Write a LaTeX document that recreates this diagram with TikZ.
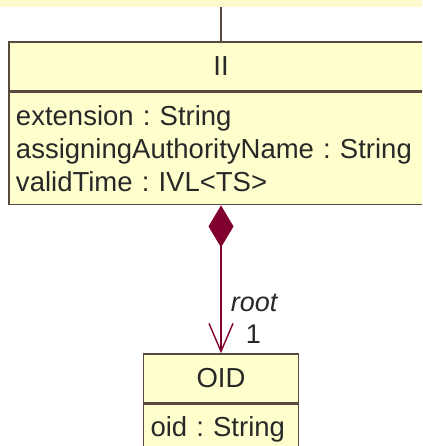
\documentclass[tikz,border=0pt]{standalone}
\usepackage{fontspec}
\setmainfont{Liberation Sans}
\usepackage{tikz}
\usetikzlibrary{arrows.meta, positioning, calc}

\definecolor{umlfill}{RGB}{255,255,206}
\definecolor{umltop}{RGB}{255,250,204}
\definecolor{umlline}{RGB}{88,72,62}
\definecolor{umlred}{RGB}{128,0,48}
\definecolor{umltext}{RGB}{40,40,40}
\frenchspacing

\begin{document}
\begin{tikzpicture}[x=1pt, y=-1pt,
		classhead/.style={draw=umlline, line width=1.6pt, fill=umlfill, text=umltext, inner sep=0pt,
			font=\fontsize{27.5}{33}\selectfont},
		classbody/.style={classhead, align=left, inner xsep=7pt, inner ysep=0pt},
		assoc/.style={draw=umlred, line width=1.6pt,
			{Diamond[length=42pt, width=25pt, fill=umlred]}-{Straight Barb[length=28pt, width=24pt, line width=1.4pt]}},
		lbl/.style={text=umltext, font=\fontsize{27}{33}\selectfont, inner sep=0pt}]
		\clip (0,0) rectangle (422,446);
		\fill[white] (0,0) rectangle (422,446);
		
		\node[fill=umltop, minimum width=430pt, minimum height=20pt, inner sep=0pt, anchor=south] (up) at (211,7) {};
		
		\node[classhead, minimum width=424pt, minimum height=49pt] (II) at (221,66.5) {II};
		\node[classbody, text width=410pt, minimum height=112pt, anchor=north] (IIattr) at (II.south)
			{extension : String\\assigningAuthorityName : String\\validTime : IVL<TS>};
		
		\node[classhead, minimum width=155pt, minimum height=49pt] (OID) at (221,378.5) {OID};
		\node[classbody, text width=141pt, minimum height=49pt, anchor=north] (OIDattr) at (OID.south) {oid : String};
		
		\draw[umlline, line width=1.6pt] (II.north |- up.south) -- (II.north);
		\draw[assoc] (IIattr.south) -- node[lbl, pos=0.66, right=9pt] {\itshape root}
			node[lbl, pos=0.87, right=24pt] {1} (OID.north);
	\end{tikzpicture}
\end{document}
